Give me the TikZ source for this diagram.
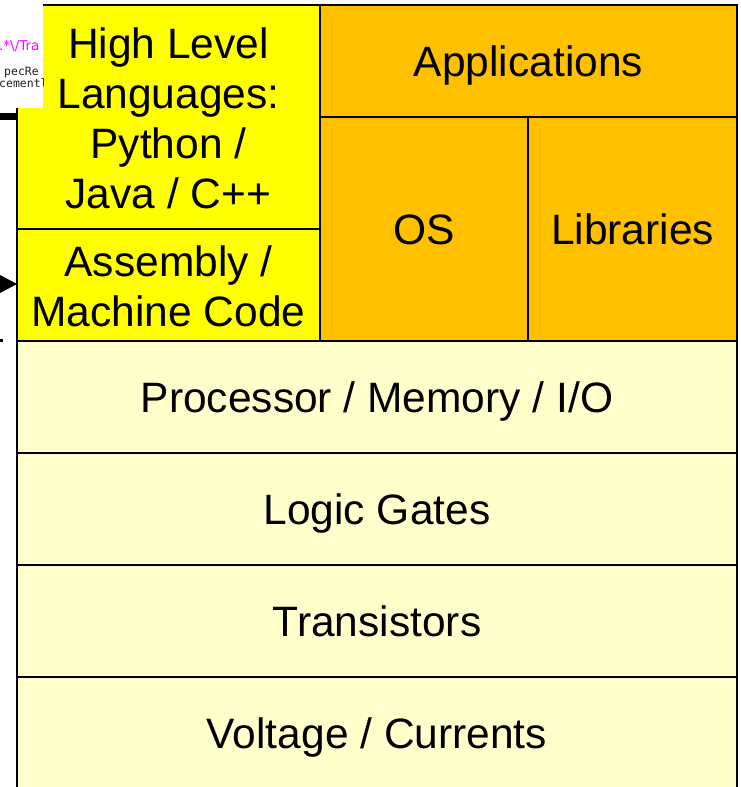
\documentclass[tikz,border=0pt]{standalone}
\usepackage{fontspec}
\setmainfont{Liberation Sans}
\newfontfamily\tagmono{DejaVu Sans Mono}
\newfontfamily\tagsans{DejaVu Sans}
\definecolor{hlyellow}{HTML}{FFFF00}
\definecolor{osorange}{HTML}{FFC000}
\definecolor{hwcream}{HTML}{FFFFCC}
\definecolor{tagpink}{HTML}{FF00FF}
\definecolor{taggray}{HTML}{202020}

\begin{document}
\begin{tikzpicture}[x=1pt,y=-1pt,
  layer/.style={draw=black, line width=2.6pt, inner sep=0pt, outer sep=0pt},
  caption/.style={align=center, inner sep=0pt, font=\fontsize{42.5}{50}\selectfont},
  oneline/.style={caption, text height=30.5pt, text depth=0pt},
  sw/.style={layer, fill=hlyellow},
  sys/.style={layer, fill=osorange},
  hw/.style={layer, fill=hwcream, minimum width=720pt, minimum height=112pt},
  tagtext/.style={anchor=base west, inner sep=0pt},
]
\useasboundingbox (0,0) rectangle (741,787);

% software stack: languages and assembly
\node[sw, minimum width=303pt, minimum height=224pt] (hll) at (168.5,117) {};
\node[sw, minimum width=303pt, minimum height=112pt] (asm) at (168.5,285) {};
% system software
\node[sys, minimum width=417pt, minimum height=112pt] (app) at (528.5,61) {};
\node[sys, minimum width=208pt, minimum height=224pt] (os) at (424,229) {};
\node[sys, minimum width=209pt, minimum height=224pt] (lib) at (632.5,229) {};
% hardware layers
\node[hw] (proc)  at (377,397) {};
\node[hw] (gates) at (377,509) {};
\node[hw] (trans) at (377,621) {};
\node[hw] (volt)  at (377,733) {};

% captions
\node[caption] (hllT) at ([yshift=-1.5pt]hll.center) {High Level\\Languages:\\Python /\\Java / C++};
\node[caption] (asmT) at ([yshift=-1.5pt]asm.center) {Assembly /\\Machine Code};
\node[oneline] (appT) at (app.center) {Applications};
\node[oneline] (osT)  at (os.center) {OS};
\node[oneline] (libT) at (lib.center) {Libraries};
\node[oneline] (procT)  at (proc.center) {Processor / Memory / I/O};
\node[oneline] (gatesT) at (gates.center) {Logic Gates};
\node[oneline] (transT) at (trans.center) {Transistors};
\node[oneline] (voltT)  at (volt.center) {Voltage / Currents};

% label patch in the upper left corner
\fill[white] (0,0) rectangle (43,108);
\begin{scope}
  \clip (0,0) rectangle (43,108);
  \node[tagtext, text=tagpink, font=\tagsans\fontsize{13.5}{15}\selectfont]
    (tagA) at (-1,50) {.*\textbackslash/Tra};
  \node[tagtext, text=taggray, font=\tagmono\fontsize{11.5}{12}\selectfont]
    (tagB) at (4,75) {pecRe};
  \node[tagtext, text=taggray, font=\tagmono\fontsize{11.5}{12}\selectfont]
    (tagC) at (-1,87) {cementl};
\end{scope}

% arrow pieces entering from the left edge
\coordinate (inA) at (17,116.5);
\coordinate (inB) at (17,284);
\draw[line width=7pt] (0,116.5) -- (inA);
\fill (0,275) -- (inB) -- (0,293) -- cycle;
\fill (0,339) rectangle (3,342);
\end{tikzpicture}
\end{document}
